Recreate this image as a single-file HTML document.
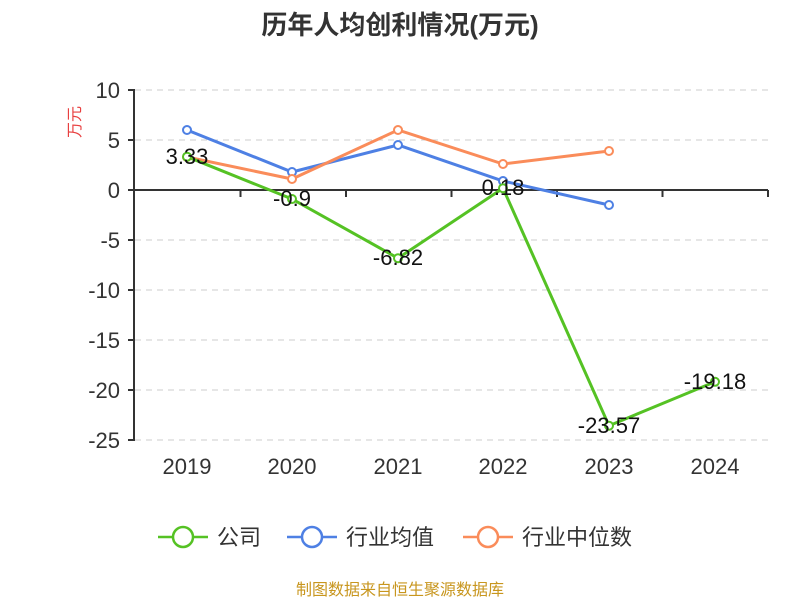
<!DOCTYPE html>
<html><head><meta charset="utf-8"><style>body{margin:0;background:#fff}svg{display:block}text{font-family:"Liberation Sans","Noto Sans CJK SC",sans-serif}</style></head><body>
<svg width="800" height="600" xmlns="http://www.w3.org/2000/svg">
<rect width="800" height="600" fill="#fff"/>
<text x="400" y="34" text-anchor="middle" font-size="26" font-weight="bold" fill="#333">历年人均创利情况(万元)</text>
<text transform="translate(80,122) rotate(-90)" text-anchor="middle" font-size="16" fill="#e84040">万元</text>
<g stroke="#ccc" stroke-dasharray="6,5" stroke-width="1">
<line x1="135" y1="90" x2="768" y2="90"/><line x1="135" y1="140" x2="768" y2="140"/><line x1="135" y1="240" x2="768" y2="240"/><line x1="135" y1="290" x2="768" y2="290"/><line x1="135" y1="340" x2="768" y2="340"/><line x1="135" y1="390" x2="768" y2="390"/><line x1="135" y1="440" x2="768" y2="440"/>
</g>
<g stroke="#333" stroke-width="2">
<line x1="134" y1="89" x2="134" y2="441"/>
<line x1="128" y1="90" x2="134" y2="90"/><line x1="128" y1="140" x2="134" y2="140"/><line x1="128" y1="190" x2="134" y2="190"/><line x1="128" y1="240" x2="134" y2="240"/><line x1="128" y1="290" x2="134" y2="290"/><line x1="128" y1="340" x2="134" y2="340"/><line x1="128" y1="390" x2="134" y2="390"/><line x1="128" y1="440" x2="134" y2="440"/>
<line x1="134" y1="190" x2="768" y2="190"/>
<line x1="240.5" y1="190" x2="240.5" y2="197"/><line x1="346" y1="190" x2="346" y2="197"/><line x1="451.5" y1="190" x2="451.5" y2="197"/><line x1="557" y1="190" x2="557" y2="197"/><line x1="662.5" y1="190" x2="662.5" y2="197"/><line x1="768" y1="190" x2="768" y2="197"/>
</g>
<g font-size="22" fill="#333" text-anchor="end">
<text x="120" y="98">10</text><text x="120" y="148">5</text><text x="120" y="198">0</text><text x="120" y="248">-5</text><text x="120" y="298">-10</text><text x="120" y="348">-15</text><text x="120" y="398">-20</text><text x="120" y="448">-25</text>
</g>
<g font-size="22" fill="#333" text-anchor="middle">
<text x="187" y="474">2019</text><text x="292" y="474">2020</text><text x="398" y="474">2021</text><text x="503" y="474">2022</text><text x="609" y="474">2023</text><text x="715" y="474">2024</text>
</g>
<g fill="none" stroke-width="3">
<polyline stroke="#4e80e4" points="187,130 292,172 398,145 503,181 609,205"/>
<polyline stroke="#fa8c5a" points="187,157 292,179 398,130 503,164 609,151"/>
<polyline stroke="#55c224" points="187,156.7 292,199 398,258.2 503,188.2 609,425.7 715,381.8"/>
</g>
<g fill="#fff" stroke-width="2">
<g stroke="#4e80e4"><circle cx="187" cy="130" r="4"/><circle cx="292" cy="172" r="4"/><circle cx="398" cy="145" r="4"/><circle cx="503" cy="181" r="4"/><circle cx="609" cy="205" r="4"/></g>
<g stroke="#fa8c5a"><circle cx="187" cy="157" r="4"/><circle cx="292" cy="179" r="4"/><circle cx="398" cy="130" r="4"/><circle cx="503" cy="164" r="4"/><circle cx="609" cy="151" r="4"/></g>
<g stroke="#55c224"><circle cx="187" cy="156.7" r="4"/><circle cx="292" cy="199" r="4"/><circle cx="398" cy="258.2" r="4"/><circle cx="503" cy="188.2" r="4"/><circle cx="609" cy="425.7" r="4"/><circle cx="715" cy="381.8" r="4"/></g>
</g>
<g font-size="22" fill="#111" text-anchor="middle">
<text x="187" y="164">3.33</text><text x="292" y="206">-0.9</text><text x="398" y="265">-6.82</text><text x="503" y="195">0.18</text><text x="609" y="433">-23.57</text><text x="715" y="389">-19.18</text>
</g>
<g stroke-width="2.5" fill="#fff">
<line x1="158" y1="537" x2="208" y2="537" stroke="#55c224"/><circle cx="183" cy="537" r="10" stroke="#55c224"/>
<line x1="287" y1="537" x2="337" y2="537" stroke="#4e80e4"/><circle cx="312" cy="537" r="10" stroke="#4e80e4"/>
<line x1="463" y1="537" x2="513" y2="537" stroke="#fa8c5a"/><circle cx="488" cy="537" r="10" stroke="#fa8c5a"/>
</g>
<g font-size="22" fill="#333">
<text x="217" y="545">公司</text><text x="346" y="545">行业均值</text><text x="522" y="545">行业中位数</text>
</g>
<text x="400" y="595" text-anchor="middle" font-size="16" fill="#c8961e">制图数据来自恒生聚源数据库</text>
</svg>
</body></html>
